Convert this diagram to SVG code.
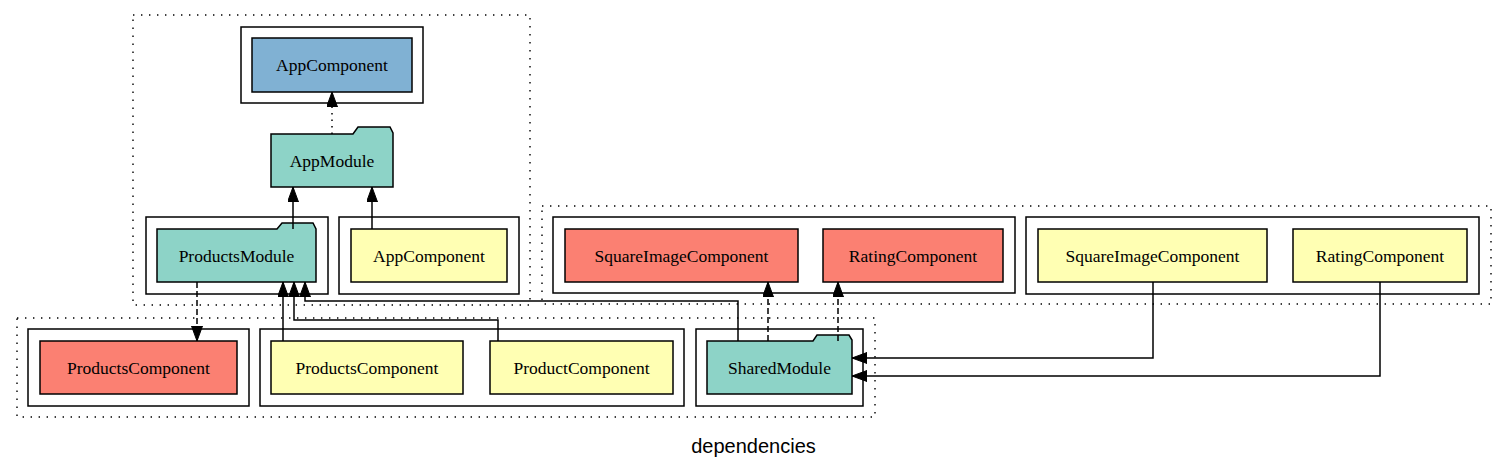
<svg xmlns="http://www.w3.org/2000/svg" width="1505" height="469" viewBox="0 0 1505 469">
<style>
.bg{fill:#ffffff}
.dot{fill:none;stroke:#000;stroke-width:1.4;stroke-dasharray:1.4 6.6}
.cl{fill:none;stroke:#000;stroke-width:1.5}
.n{stroke:#000;stroke-width:1.5}
.blue{fill:#80b1d3}
.teal{fill:#8dd3c7}
.yel{fill:#ffffb3}
.red{fill:#fb8072}
.t{font-family:"Liberation Serif","Times New Roman",serif;font-size:17.5px;fill:#000;text-anchor:middle}
.e{fill:none;stroke:#000;stroke-width:1.5}
.dashed{stroke-dasharray:6 3}
.dotted{stroke-dasharray:1.5 5}
.lbl{font-family:"Liberation Sans",Arial,sans-serif;font-size:20px;fill:#000;text-anchor:middle}
</style>
<defs>
<marker id="arr" markerUnits="userSpaceOnUse" markerWidth="16" markerHeight="12" refX="15" refY="5.5" orient="auto">
<path d="M0,0 L15,5.5 L0,11 Z" fill="#000" stroke="#000" stroke-width="1"/>
</marker>
</defs>
<rect class="bg" x="0" y="0" width="1505" height="469"/>

<g id="clusters">
<rect class="dot" x="133" y="15" width="397" height="290"/>
<rect class="dot" x="17" y="318" width="858" height="99"/>
<rect class="dot" x="542" y="206" width="949" height="98"/>
<rect class="cl" x="241" y="27" width="182" height="76"/>
<rect class="cl" x="146" y="217" width="182" height="77"/>
<rect class="cl" x="339" y="217" width="180" height="77"/>
<rect class="cl" x="28" y="329" width="221" height="77"/>
<rect class="cl" x="260" y="329" width="424" height="77"/>
<rect class="cl" x="696" y="329" width="167" height="77"/>
<rect class="cl" x="553" y="217" width="462" height="76"/>
<rect class="cl" x="1026" y="217" width="453" height="77"/>
</g>

<g id="node-appcomponent-blue">
<rect class="n blue" x="252" y="38" width="160" height="54"/>
<text class="t" x="332" y="71">AppComponent</text>
</g>
<g id="node-appmodule">
<path class="n teal" d="M271,187 L271,134 L353,134 L358,127 L390,127 L393,133 L393,187 Z"/>
<text class="t" x="332" y="166.5">AppModule</text>
</g>
<g id="node-productsmodule">
<path class="n teal" d="M157,282 L157,229 L277,229 L282,223 L313,223 L316,229 L316,282 Z"/>
<text class="t" x="236.5" y="261.5">ProductsModule</text>
</g>
<g id="node-appcomponent-yellow">
<rect class="n yel" x="351" y="229" width="156" height="53"/>
<text class="t" x="429" y="261.5">AppComponent</text>
</g>
<g id="node-productscomponent-red">
<rect class="n red" x="40" y="341" width="197" height="53"/>
<text class="t" x="138.5" y="373.5">ProductsComponent</text>
</g>
<g id="node-productscomponent-yellow">
<rect class="n yel" x="271" y="341" width="192" height="53"/>
<text class="t" x="367" y="373.5">ProductsComponent</text>
</g>
<g id="node-productcomponent">
<rect class="n yel" x="490" y="341" width="183" height="53"/>
<text class="t" x="581.5" y="373.5">ProductComponent</text>
</g>
<g id="node-sharedmodule">
<path class="n teal" d="M707,394 L707,341 L813,341 L817,335 L849,335 L852,340 L852,394 Z"/>
<text class="t" x="779.5" y="373.5">SharedModule</text>
</g>
<g id="node-squareimage-red">
<rect class="n red" x="565" y="229" width="233" height="53"/>
<text class="t" x="681.5" y="261.5">SquareImageComponent</text>
</g>
<g id="node-rating-red">
<rect class="n red" x="823" y="229" width="180" height="53"/>
<text class="t" x="913" y="261.5">RatingComponent</text>
</g>
<g id="node-squareimage-yellow">
<rect class="n yel" x="1038" y="229" width="229" height="53"/>
<text class="t" x="1152.5" y="261.5">SquareImageComponent</text>
</g>
<g id="node-rating-yellow">
<rect class="n yel" x="1293" y="229" width="174" height="53"/>
<text class="t" x="1380" y="261.5">RatingComponent</text>
</g>

<g id="connectors">
<path class="e dotted" d="M332,134 V92" marker-end="url(#arr)"/>
<path class="e" d="M293,229 V187" marker-end="url(#arr)"/>
<path class="e" d="M372,229 V187" marker-end="url(#arr)"/>
<path class="e dashed" d="M197,282 V341" marker-end="url(#arr)"/>
<path class="e" d="M283,341 V282" marker-end="url(#arr)"/>
<path class="e" d="M498,341 V320 H294 V282" marker-end="url(#arr)"/>
<path class="e" d="M738,341 V301 H305 V282" marker-end="url(#arr)"/>
<path class="e dashed" d="M768,341 V282" marker-end="url(#arr)"/>
<path class="e dashed" d="M838,341 V282" marker-end="url(#arr)"/>
<path class="e" d="M1153,282 V358 H852" marker-end="url(#arr)"/>
<path class="e" d="M1380,282 V376 H852" marker-end="url(#arr)"/>
</g>

<text class="lbl" x="753.5" y="453">dependencies</text>
</svg>
